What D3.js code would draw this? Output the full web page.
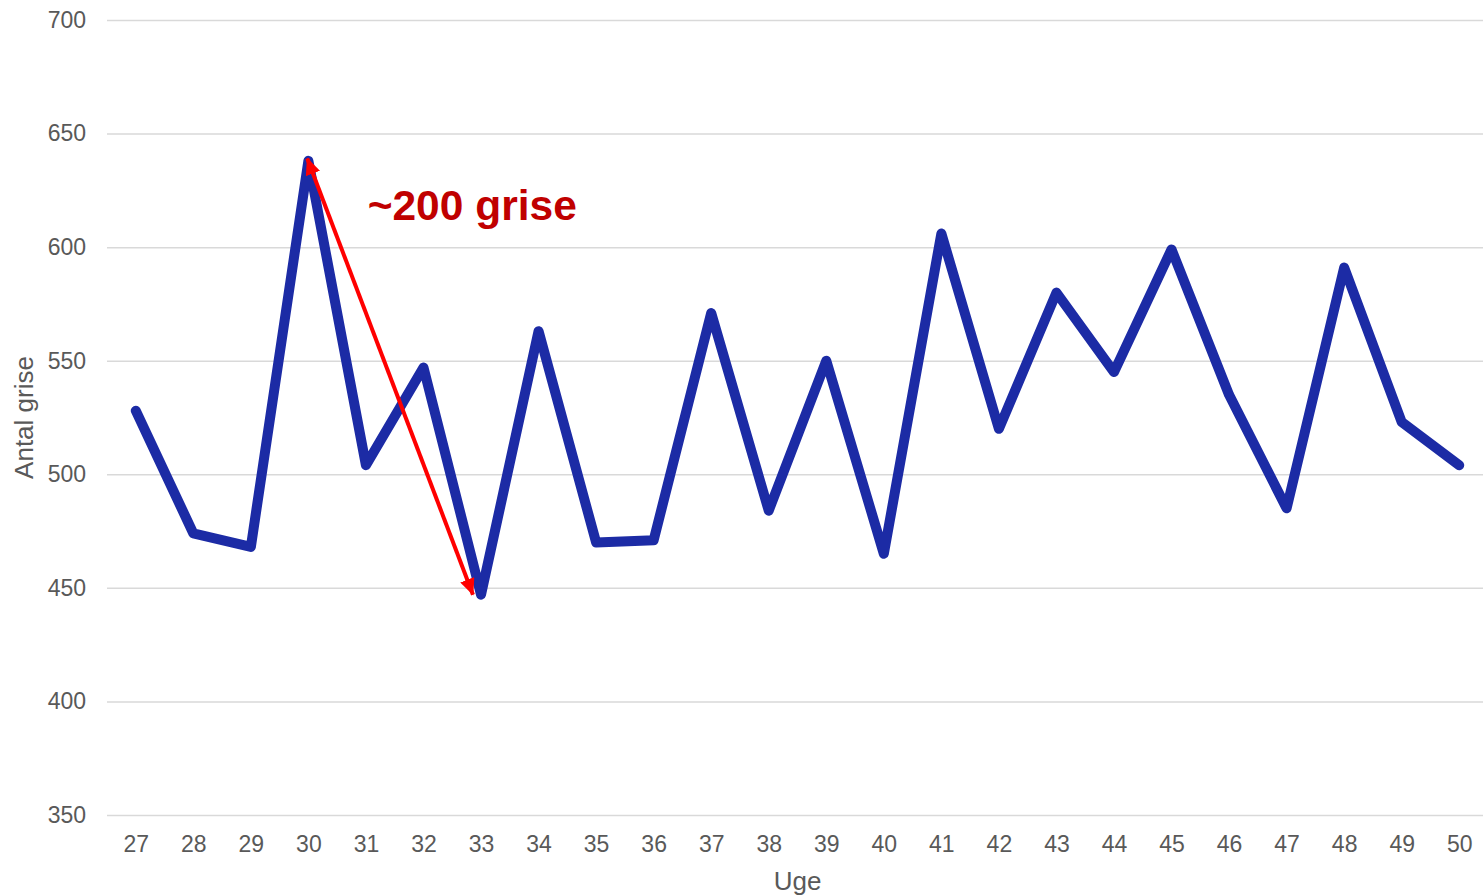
<html>
<head>
<script src="https://d3js.org/d3.v7.min.js"></script>
<style>
  body { margin: 0; background: #fff; }
  svg { display: block; font-family: "Liberation Sans", Arial, sans-serif; }
  .gridlines line { stroke: #d9d9d9; stroke-width: 1.5; }
  .gridlines .domain, .x.axis .domain { stroke: none; }
  .axis text, .gridlines text { fill: #595959; font-size: 23px; }
  .title { fill: #595959; font-size: 26px; }
</style>
</head>
<body>
<svg id="chart" width="1483" height="895">
  <defs>
    <marker id="headEnd" markerWidth="17" markerHeight="15" refX="16" refY="7.5" orient="auto" markerUnits="userSpaceOnUse">
      <path d="M 0 0 L 17 7.5 L 0 15 Z" fill="#ff0000"/>
    </marker>
    <marker id="headStart" markerWidth="17" markerHeight="15" refX="1" refY="7.5" orient="auto" markerUnits="userSpaceOnUse">
      <path d="M 17 0 L 0 7.5 L 17 15 Z" fill="#ff0000"/>
    </marker>
  </defs>
</svg>
<script>
// data
const weeks = [27, 28, 29, 30, 31, 32, 33, 34, 35, 36, 37, 38, 39, 40, 41, 42, 43, 44, 45, 46, 47, 48, 49, 50];
const pigs = [528, 474, 468, 638, 504, 547, 447, 563, 470, 471, 571, 484, 550, 465, 606, 520, 580, 545, 599, 535, 485, 591, 523, 504];
const yTicks = [350, 400, 450, 500, 550, 600, 650, 700];
const arrowFrom = { week: 29.98, value: 639 };
const arrowTo = { week: 32.86, value: 447 };
const note = { week: 31.03, value: 612, text: '~200 grise' };

const svg = d3.select('svg#chart');
const margin = { top: 20, right: -5, bottom: 80, left: 107 };
const width = +svg.attr('width');
const height = +svg.attr('height');
const chartWidth = width - margin.left - margin.right;
const chartHeight = height - margin.top - margin.bottom;

const x = d3.scaleLinear().domain([26.5, 50.5]).range([0, chartWidth]);
const y = d3.scaleLinear().domain([350, 700]).range([chartHeight, 0]);

// horizontal gridlines + y tick labels
svg.append('g')
  .attr('class', 'y gridlines')
  .attr('transform', `translate(${margin.left}, ${margin.top})`)
  .call(d3.axisLeft(y).tickValues(yTicks).tickSize(-chartWidth).tickPadding(21))
  .call(g => g.select('.domain').remove());

// x axis
svg.append('g')
  .attr('class', 'x axis')
  .attr('transform', `translate(${margin.left}, ${margin.top + chartHeight})`)
  .call(d3.axisBottom(x).tickValues(weeks).tickSize(0).tickPadding(21).tickFormat(d3.format('d')));

const chart = svg.append('g')
  .attr('transform', `translate(${margin.left}, ${margin.top})`);

const line = d3.line()
  .x((d, i) => x(weeks[i]))
  .y(d => y(d));

chart.append('path')
  .datum(pigs)
  .attr('d', line)
  .attr('fill', 'none')
  .attr('stroke', '#1c2ba5')
  .attr('stroke-width', 10)
  .attr('stroke-linejoin', 'round')
  .attr('stroke-linecap', 'round');

// annotation arrow
chart.append('line')
  .attr('x1', x(arrowFrom.week))
  .attr('y1', y(arrowFrom.value))
  .attr('x2', x(arrowTo.week))
  .attr('y2', y(arrowTo.value))
  .attr('stroke', '#ff0000')
  .attr('stroke-width', 4)
  .attr('marker-start', 'url(#headStart)')
  .attr('marker-end', 'url(#headEnd)');

chart.append('text')
  .attr('x', x(note.week))
  .attr('y', y(note.value))
  .attr('fill', '#c00000')
  .attr('font-size', '42.5px')
  .attr('font-weight', 'bold')
  .text(note.text);

// axis titles
svg.append('text')
  .attr('class', 'title')
  .attr('x', margin.left + x(38.5))
  .attr('y', 890)
  .attr('text-anchor', 'middle')
  .text('Uge');

svg.append('text')
  .attr('class', 'title')
  .attr('transform', `translate(33, ${margin.top + y(525)}) rotate(-90)`)
  .attr('text-anchor', 'middle')
  .text('Antal grise');
</script>
</body>
</html>
